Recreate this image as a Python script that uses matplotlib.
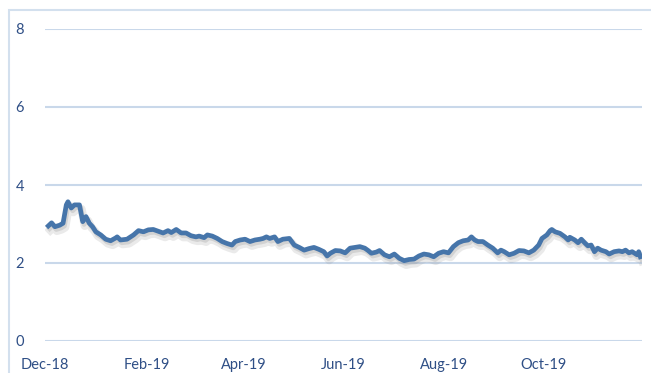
import matplotlib
matplotlib.use("Agg")
import matplotlib.pyplot as plt
import matplotlib.dates as mdates
import matplotlib.patheffects as pe
from matplotlib.patches import Rectangle
import pandas as pd

# Daily series readings (date, value)
dates = [
    "2018-12-03", "2018-12-05", "2018-12-07", "2018-12-10", "2018-12-12", "2018-12-14",
    "2018-12-15", "2018-12-17", "2018-12-19", "2018-12-22", "2018-12-24", "2018-12-26",
    "2018-12-28", "2018-12-30", "2019-01-01", "2019-01-04", "2019-01-07", "2019-01-10",
    "2019-01-13", "2019-01-14", "2019-01-16", "2019-01-20", "2019-01-24", "2019-01-27",
    "2019-01-30", "2019-02-02", "2019-02-05", "2019-02-07", "2019-02-11", "2019-02-14",
    "2019-02-16", "2019-02-19", "2019-02-22", "2019-02-25", "2019-02-28", "2019-03-03",
    "2019-03-05", "2019-03-08", "2019-03-10", "2019-03-13", "2019-03-16", "2019-03-19",
    "2019-03-22", "2019-03-25", "2019-03-27", "2019-03-30", "2019-04-02", "2019-04-05",
    "2019-04-08", "2019-04-11", "2019-04-13", "2019-04-15", "2019-04-17", "2019-04-20",
    "2019-04-22", "2019-04-25", "2019-04-29", "2019-05-02", "2019-05-05", "2019-05-08",
    "2019-05-11", "2019-05-14", "2019-05-17", "2019-05-20", "2019-05-22", "2019-05-24",
    "2019-05-27", "2019-05-30", "2019-06-02", "2019-06-05", "2019-06-08", "2019-06-11",
    "2019-06-14", "2019-06-16", "2019-06-18", "2019-06-21", "2019-06-23", "2019-06-26",
    "2019-06-29", "2019-07-02", "2019-07-05", "2019-07-08", "2019-07-11", "2019-07-14",
    "2019-07-17", "2019-07-20", "2019-07-23", "2019-07-26", "2019-07-29", "2019-08-01",
    "2019-08-04", "2019-08-07", "2019-08-10", "2019-08-13", "2019-08-16", "2019-08-18",
    "2019-08-20", "2019-08-22", "2019-08-25", "2019-08-28", "2019-08-31", "2019-09-03",
    "2019-09-05", "2019-09-07", "2019-09-10", "2019-09-13", "2019-09-16", "2019-09-19",
    "2019-09-22", "2019-09-25", "2019-09-28", "2019-09-30", "2019-10-03", "2019-10-05",
    "2019-10-06", "2019-10-08", "2019-10-11", "2019-10-14", "2019-10-16", "2019-10-17",
    "2019-10-20", "2019-10-22", "2019-10-24", "2019-10-26", "2019-10-28", "2019-10-30",
    "2019-11-01", "2019-11-03", "2019-11-05", "2019-11-08", "2019-11-10", "2019-11-13",
    "2019-11-16", "2019-11-18", "2019-11-20", "2019-11-22", "2019-11-24", "2019-11-27",
    "2019-11-28", "2019-11-29",
]
values = [
    2.95, 3.03, 2.93, 2.97, 3.02, 3.49,
    3.57, 3.41, 3.49, 3.49, 3.06, 3.19,
    3.02, 2.93, 2.80, 2.72, 2.61, 2.57,
    2.64, 2.67, 2.59, 2.61, 2.72, 2.83,
    2.80, 2.85, 2.86, 2.83, 2.77, 2.83,
    2.78, 2.86, 2.77, 2.77, 2.70, 2.67,
    2.69, 2.65, 2.72, 2.69, 2.63, 2.55,
    2.50, 2.46, 2.55, 2.59, 2.61, 2.55,
    2.59, 2.61, 2.63, 2.67, 2.63, 2.67,
    2.55, 2.61, 2.63, 2.46, 2.40, 2.33,
    2.37, 2.40, 2.35, 2.29, 2.18, 2.25,
    2.32, 2.31, 2.26, 2.38, 2.40, 2.42,
    2.38, 2.32, 2.25, 2.28, 2.32, 2.21,
    2.16, 2.23, 2.12, 2.06, 2.09, 2.10,
    2.18, 2.23, 2.21, 2.16, 2.25, 2.29,
    2.26, 2.42, 2.52, 2.57, 2.59, 2.67,
    2.59, 2.55, 2.55, 2.46, 2.38, 2.26,
    2.33, 2.29, 2.21, 2.25, 2.32, 2.31,
    2.26, 2.33, 2.46, 2.63, 2.72, 2.83,
    2.86, 2.80, 2.76, 2.67, 2.59, 2.66,
    2.59, 2.52, 2.61, 2.52, 2.44, 2.46,
    2.29, 2.38, 2.33, 2.29, 2.23, 2.29,
    2.31, 2.29, 2.33, 2.26, 2.29, 2.21,
    2.29, 2.16,
]
x_ticks = ["2018-12-01", "2019-02-01", "2019-04-01", "2019-06-01", "2019-08-01", "2019-10-01"]
x_range = ["2018-12-01", "2019-11-30"]
y_ticks = [0, 2, 4, 6, 8]

text_color = "#2f4f86"
line_color = "#4675aa"
grid_color = "#c9d8ea"

plt.rcParams["font.family"] = ["Lato", "DejaVu Sans"]

fig = plt.figure(figsize=(6.51, 3.73), dpi=100)
W, H = 651, 373
ax = fig.add_axes([45 / W, 1 - 341 / H, (642 - 45) / W, (341 - 29) / H])

# outer chart frame
fig.patches.append(Rectangle((9 / W, -0.05), 1.2, 1 - 10 / H + 0.05,
                             transform=fig.transFigure, fill=False,
                             edgecolor="#d3e0ee", linewidth=1.5))

x = pd.to_datetime(dates)
# soft drop shadow under the line
shadow = [
    pe.SimpleLineShadow(offset=(1.5, -3.0), shadow_color="#8c8c8c", alpha=0.18,
                        linewidth=6.0),
    pe.SimpleLineShadow(offset=(1.0, -2.0), shadow_color="#8c8c8c", alpha=0.25),
    pe.Normal(),
]
ax.plot(x, values, color=line_color, linewidth=3.4, solid_joinstyle="round",
        path_effects=shadow, zorder=3)

ax.set_ylim(0, 8)
ax.set_yticks(y_ticks)
ax.set_xlim(pd.to_datetime(x_range[0]), pd.to_datetime(x_range[1]))
ax.set_xticks(pd.to_datetime(x_ticks))
ax.xaxis.set_major_formatter(mdates.DateFormatter("%b-%y"))

ax.grid(axis="y", color=grid_color, linewidth=1.5)
ax.set_axisbelow(True)
for s in ax.spines.values():
    s.set_visible(False)
ax.tick_params(axis="both", length=0, labelsize=10.5, labelcolor=text_color)
ax.tick_params(axis="y", pad=15)
ax.tick_params(axis="x", pad=12)

fig.savefig("out.png", dpi=100)
